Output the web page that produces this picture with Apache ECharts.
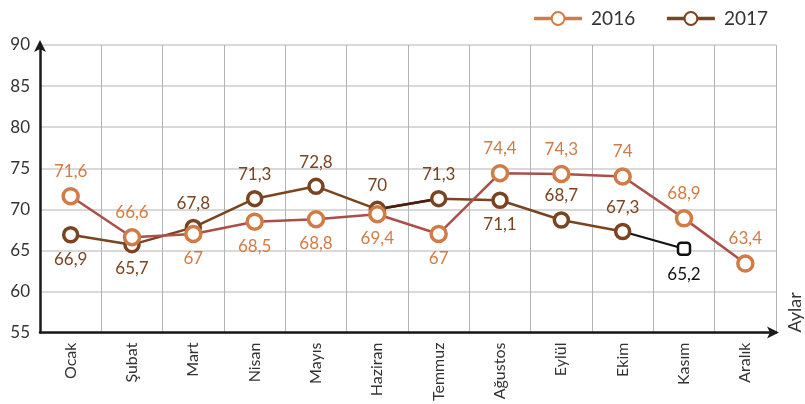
<!DOCTYPE html>
<html>
<head>
<meta charset="utf-8">
<script src="https://cdn.jsdelivr.net/npm/echarts@6/dist/echarts.min.js"></script>
<style>
  html, body { margin: 0; padding: 0; background: #fff; }
  #chart { width: 805px; height: 404px; }
</style>
</head>
<body>
<div id="chart"></div>
<script>
const months = ['Ocak', 'Şubat', 'Mart', 'Nisan', 'Mayıs', 'Haziran', 'Temmuz', 'Ağustos', 'Eylül', 'Ekim', 'Kasım', 'Aralık']
const values2016 = [71.6, 66.6, 67, 68.5, 68.8, 69.4, 67, 74.4, 74.3, 74, 68.9, 63.4]
const values2017 = [66.9, 65.7, 67.8, 71.3, 72.8, 70, 71.3, 71.1, 68.7, 67.3, 65.2]
const yTicks = { min: 55, max: 90, step: 5 }

// hangi etiket noktanin altinda
const below2016 = [2, 3, 4, 5, 6]
const below2017 = [0, 1, 7, 10]

const orange = '#d27c45'
const brown = '#7a4420'
const font = 'Lato'

const comma = v => String(v).replace('.', ',')

const chart = echarts.init(document.getElementById('chart'))

// 2017: son nokta (Kasım) tahmini, ayrı çiziliyor
const lastIdx = values2017.length - 1
const main2017 = values2017.map((v, i) => i < lastIdx ? v : '-')
const est2017 = values2017.map((v, i) => i >= lastIdx - 1 ? v : '-')
const dark2017 = values2017.map((v, i) => (i === 5 || i === 6) ? v : '-')

chart.setOption({
  animation: false,
  textStyle: { fontFamily: font },
  legend: {
    data: [
      { name: '2016', lineStyle: { color: orange, width: 3.5 } },
      { name: '2017', lineStyle: { color: brown, width: 3.5 } }
    ],
    right: 32,
    top: 4,
    itemWidth: 48,
    itemHeight: 16,
    itemGap: 30,
    textStyle: { fontSize: 19, color: '#333', fontFamily: font, padding: [0, 0, 0, 4] }
  },
  grid: { left: 40, right: 29, top: 45, bottom: 71 },
  xAxis: {
    type: 'category',
    data: months,
    boundaryGap: true,
    name: 'Aylar',
    nameLocation: 'end',
    nameRotate: 90,
    nameGap: 19,
    nameTextStyle: { fontSize: 18, color: '#333', align: 'left', verticalAlign: 'middle' },
    axisLine: { lineStyle: { color: '#1a1a1a', width: 2.5 }, symbol: ['none', 'arrow'], symbolSize: [9, 12], symbolOffset: [0, 3] },
    axisTick: { show: false },
    axisLabel: { rotate: 90, interval: 0, fontSize: 16, color: '#333', margin: 10 },
    splitLine: { show: true, interval: 0, lineStyle: { color: '#b4b4b4', width: 1 } }
  },
  yAxis: {
    type: 'value',
    min: yTicks.min,
    max: yTicks.max,
    interval: yTicks.step,
    axisLine: { show: true, lineStyle: { color: '#1a1a1a', width: 2.5 }, symbol: ['none', 'arrow'], symbolSize: [9, 12], symbolOffset: [0, 5] },
    axisTick: { show: false },
    axisLabel: { fontSize: 17, color: '#333', margin: 10 },
    splitLine: { lineStyle: { color: '#cccccc', width: 1.5 } }
  },
  series: [
    {
      name: '2017',
      type: 'line',
      data: main2017.map((v, i) => ({
        value: v,
        label: { position: below2017.includes(i) ? 'bottom' : 'top' }
      })),
      symbol: 'circle',
      symbolSize: 14,
      color: brown,
      lineStyle: { color: brown, width: 2.5 },
      itemStyle: { color: '#fff', borderColor: brown, borderWidth: 3.5 },
      label: { show: true, fontSize: 17, color: brown, distance: 7, formatter: p => comma(p.value) },
      z: 3
    },
    {
      name: '2017-koyu',
      type: 'line',
      data: dark2017,
      symbol: 'none',
      lineStyle: { color: '#4a1c12', width: 2.5 },
      z: 3
    },
    {
      name: '2017-tahmin',
      type: 'line',
      data: est2017.map((v, i) => ({
        value: v,
        symbol: i === lastIdx ? 'roundRect' : 'none',
        label: { show: i === lastIdx, position: 'bottom' }
      })),
      symbolSize: 12,
      lineStyle: { color: '#111', width: 2 },
      itemStyle: { color: '#fff', borderColor: '#111', borderWidth: 2.5 },
      label: { fontSize: 17, color: '#111', distance: 10, formatter: p => comma(p.value) },
      z: 2
    },
    {
      name: '2016',
      type: 'line',
      data: values2016.map((v, i) => ({
        value: v,
        label: { position: below2016.includes(i) ? 'bottom' : 'top' }
      })),
      symbol: 'circle',
      symbolSize: 15,
      color: orange,
      lineStyle: { color: '#ac4f49', width: 2.5 },
      itemStyle: { color: '#fff', borderColor: orange, borderWidth: 3.5 },
      label: { show: true, fontSize: 17, color: orange, distance: 7, formatter: p => comma(p.value) },
      z: 4
    }
  ]
})
</script>
</body>
</html>
